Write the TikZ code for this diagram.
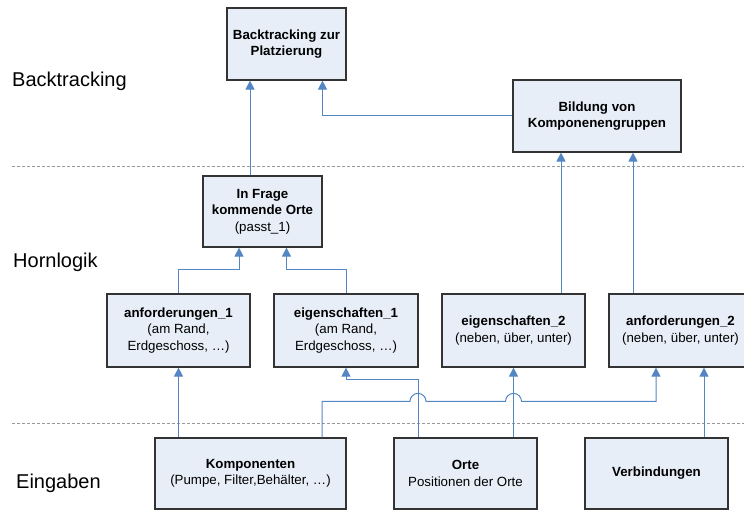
\documentclass[tikz,border=0pt]{standalone}
\usepackage{fontspec}
\setmainfont{Liberation Sans}
\usetikzlibrary{arrows.meta}
\definecolor{boxfill}{RGB}{232,238,248}
\definecolor{connc}{RGB}{84,134,196}
\begin{document}
\begin{tikzpicture}[x=1pt,y=-1pt,
  box/.style={draw=black!80, line width=1.2pt, fill=boxfill, align=center, inner sep=0pt,
    font=\fontsize{13.3}{16.5}\selectfont},
  link/.style={draw=connc, line width=1pt},
  arr/.style={link, -{Triangle[width=9pt,length=9pt]}},
  sep/.style={draw=black!40, dash pattern=on 3pt off 2pt, line width=0.8pt},
  sec/.style={anchor=base west, font=\fontsize{20}{24}\selectfont, inner sep=0pt}]
\useasboundingbox (0,0) rectangle (744,510);

% separators
\draw[sep] (12,166.7) -- (744,166.7);
\draw[sep] (12,423.3) -- (744,423.3);

% section labels
\node[sec] (lb) at (12,86.7) {Backtracking};
\node[sec] (lh) at (13,268) {Hornlogik};
\node[sec] (le) at (16,488) {Eingaben};

% boxes
\node[box, minimum width=119pt, minimum height=72pt] (b1) at (286.5,44)
  {\textbf{Backtracking zur}\\\textbf{Platzierung}};
\node[box, minimum width=168pt, minimum height=72pt] (b2) at (597,116)
  {\textbf{Bildung von}\\\textbf{Komponenengruppen}};
\node[box, minimum width=119pt, minimum height=71pt] (b3) at (262.5,211.5)
  {\textbf{In Frage}\\\textbf{kommende Orte}\\(passt\_1)};
\node[box, minimum width=143pt, minimum height=73pt] (b4) at (178.5,330.5)
  {\textbf{anforderungen\_1}\\(am Rand,\\Erdgeschoss, …)};
\node[box, minimum width=144pt, minimum height=73pt] (b5) at (346,330.5)
  {\textbf{eigenschaften\_1}\\(am Rand,\\Erdgeschoss, …)};
\node[box, minimum width=143pt, minimum height=73pt] (b6) at (513.5,330.5)
  {\textbf{eigenschaften\_2}\\(neben, über, unter)};
\node[box, minimum width=143pt, minimum height=73pt] (b7) at (680.5,330.5)
  {\textbf{anforderungen\_2}\\(neben, über, unter)};
\node[box, minimum width=191pt, minimum height=71pt] (k) at (250.5,473.5)
  {\textbf{Komponenten}\\(Pumpe, Filter,Behälter, …)};
\node[box, minimum width=143pt, minimum height=71pt] (o) at (465.5,473.5)
  {\textbf{Orte}\\Positionen der Orte};
\node[box, minimum width=143pt, minimum height=71pt] (v) at (656.5,473.5)
  {\textbf{Verbindungen}};

% connectors
\draw[arr] ([xshift=-12.5pt]b3.north) -- ([xshift=-36.5pt]b1.south);
\draw[arr] (b2.west) -| ([xshift=36pt]b1.south);
\draw[arr] ([xshift=47.5pt]b6.north) -- ([xshift=-36pt]b2.south);
\draw[arr] ([xshift=-47.5pt]b7.north) -- ([xshift=36pt]b2.south);
\draw[arr] (b4.north) -- ++(0,-24) -| ([xshift=-23.5pt]b3.south);
\draw[arr] (b5.north) -- ++(0,-24) -| ([xshift=24pt]b3.south);
\draw[arr] ([xshift=-72pt]k.north) -- (b4.south);
\draw[arr] ([xshift=-47.5pt]o.north) -- ++(0,-58) -| (b5.south);
\draw[arr] ([xshift=48pt]o.north) -- (b6.south);
\draw[arr] ([xshift=71.5pt]k.north) -- ++(0,-36) -- ++(88,0)
  arc[start angle=180, end angle=0, radius=8pt] -- ++(79.5,0)
  arc[start angle=180, end angle=0, radius=8pt] -| ([xshift=-24.5pt]b7.south);
\draw[arr] ([xshift=47.5pt]v.north) -- ([xshift=23.5pt]b7.south);
\end{tikzpicture}
\end{document}
